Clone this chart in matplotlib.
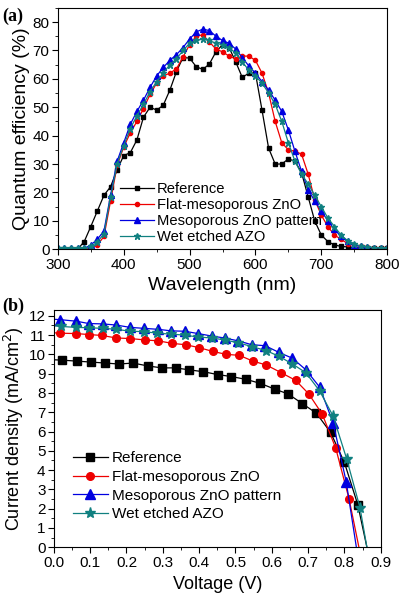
import numpy as np
import matplotlib
matplotlib.use("Agg")
import matplotlib.pyplot as plt
from matplotlib.ticker import MultipleLocator

plt.rcParams['font.family'] = ['Liberation Sans', 'DejaVu Sans']

# ---- panel (a): quantum efficiency ----
wl = list(range(300, 801, 10))

qe_ref = [0, 0, 0, 0, 2.7, 8, 13.5, 19, 22, 28, 33, 34, 38.5, 46.5, 50, 49, 50.7, 56, 62.5, 67.5,
          67.3, 64.3, 63.3, 65.2, 69.5, 72, 71, 66, 60.5, 62, 62, 49, 35.6, 30, 30, 31.8, 31, 27,
          18.5, 10, 5, 2.7, 1.5, 1, 0.8, 0.5, 0.4, 0.3, 0.3, 0.3, 0.3]
qe_flat = [0.2, 0.2, 0.2, 0.2, 0.2, 0.5, 1.5, 4.5, 17, 29.5, 36, 41, 45, 49.5, 54.5, 58.5, 61, 62,
           63.5, 67.7, 72, 75, 75.5, 73, 70.5, 69.5, 68, 67, 68, 68, 66.5, 62, 55, 45, 37.5, 35,
           34.5, 33.5, 26.5, 17.5, 12, 8, 5, 3.5, 2, 1.5, 1, 0.8, 0.5, 0.5, 0.3]
qe_meso = [0.3, 0.3, 0.3, 0.3, 0.3, 1.5, 3.5, 6.5, 19, 31, 37.5, 44, 48.5, 52.5, 57, 61, 64, 66.5,
           68.5, 71, 74, 76.5, 77.5, 77, 75, 73.5, 72.5, 70.5, 67.5, 64.5, 62, 59, 56, 52.5, 48.5,
           42, 34.5, 27.5, 21, 17, 13.5, 10, 7, 4.5, 3, 1.5, 1, 0.7, 0.5, 0.5, 0.5]
qe_wet = [0.3, 0.3, 0.3, 0.3, 0.3, 1, 2.5, 5.5, 18.5, 30, 36.5, 42.5, 47, 51, 55.5, 59, 62, 65,
          67, 70, 72.5, 73.5, 74, 73.5, 72.5, 72, 71, 69, 66, 63, 61, 58.5, 55, 51, 45, 37.5, 31,
          26.5, 23, 19, 15, 11, 8, 5, 3, 2, 1, 0.8, 0.6, 0.5, 0.5]

# ---- panel (b): J-V curves ----
v_ref = [0.0, 0.023, 0.064, 0.103, 0.142, 0.179, 0.218, 0.259, 0.297, 0.335, 0.372, 0.412, 0.452,
         0.489, 0.53, 0.568, 0.608, 0.645, 0.684, 0.723, 0.762, 0.8, 0.837, 0.862]
j_ref = [9.72, 9.7, 9.65, 9.6, 9.55, 9.5, 9.55, 9.4, 9.3, 9.3, 9.2, 9.1, 8.95, 8.85, 8.7, 8.5,
         8.2, 7.95, 7.45, 6.95, 5.95, 4.4, 2.2, 0.0]
v_flat = [0.0, 0.016, 0.06, 0.096, 0.133, 0.172, 0.211, 0.25, 0.288, 0.326, 0.363, 0.4, 0.438,
          0.475, 0.511, 0.548, 0.585, 0.626, 0.666, 0.702, 0.739, 0.776, 0.813, 0.84]
j_flat = [11.12, 11.1, 11.08, 11.03, 10.98, 10.85, 10.82, 10.75, 10.7, 10.57, 10.5, 10.35, 10.15,
          10.0, 9.95, 9.65, 9.45, 9.05, 8.65, 7.95, 6.9, 5.15, 2.5, 0.0]
v_meso = [0.0, 0.018, 0.062, 0.096, 0.135, 0.172, 0.21, 0.248, 0.287, 0.323, 0.36, 0.397, 0.435,
          0.47, 0.508, 0.545, 0.582, 0.62, 0.657, 0.694, 0.732, 0.769, 0.805, 0.833]
j_meso = [11.82, 11.8, 11.72, 11.6, 11.58, 11.52, 11.4, 11.35, 11.3, 11.22, 11.2, 11.08, 10.95,
          10.85, 10.7, 10.5, 10.45, 10.1, 9.8, 9.2, 8.3, 6.45, 3.4, 0.0]
v_wet = [0.0, 0.02, 0.06, 0.097, 0.135, 0.172, 0.21, 0.247, 0.285, 0.322, 0.36, 0.397, 0.435,
         0.47, 0.508, 0.546, 0.584, 0.62, 0.657, 0.694, 0.732, 0.769, 0.806, 0.843, 0.862]
j_wet = [11.48, 11.45, 11.4, 11.38, 11.35, 11.3, 11.2, 11.18, 11.1, 11.05, 11.0, 10.9, 10.85,
         10.75, 10.6, 10.4, 10.2, 9.9, 9.5, 9.05, 8.1, 6.8, 4.6, 2.05, 0.0]

names = ["Reference", "Flat-mesoporous ZnO", "Mesoporous ZnO pattern", "Wet etched AZO"]
colors = ["black", "#ee0000", "#0000e0", "#108080"]
markers = ["s", "o", "^", "*"]

fig = plt.figure(figsize=(4.02, 6.02), dpi=100)
ax1 = fig.add_axes([0.144, 0.586, 0.819, 0.401])
ax2 = fig.add_axes([0.134, 0.091, 0.813, 0.394])

# panel a
ms_a = [2.8, 3, 4, 4.5]
for y, n, c, m, s in zip([qe_ref, qe_flat, qe_meso, qe_wet], names, colors, markers, ms_a):
    ax1.plot(wl, y, color=c, marker=m, ms=s, lw=0.9, label=n)
ax1.set_xlim(300, 800)
ax1.set_ylim(0, 85)
ax1.xaxis.set_major_locator(MultipleLocator(100))
ax1.xaxis.set_minor_locator(MultipleLocator(50))
ax1.yaxis.set_major_locator(MultipleLocator(10))
ax1.yaxis.set_minor_locator(MultipleLocator(5))
ax1.set_xlabel("Wavelength (nm)", fontsize=14, labelpad=4)
ax1.set_ylabel("Quantum efficiency (%)", fontsize=14, labelpad=2)
ax1.legend(loc="lower left", bbox_to_anchor=(0.19, 0.02), frameon=False, fontsize=10.6,
           handlelength=2.3, handletextpad=0.15, labelspacing=0.15, borderaxespad=0,
           borderpad=0)

# panel b
ms_b = [5.5, 5.5, 6.5, 8]
for x, y, n, c, m, s in zip([v_ref, v_flat, v_meso, v_wet], [j_ref, j_flat, j_meso, j_wet],
                             names, colors, markers, ms_b):
    ax2.plot(x, y, color=c, marker=m, ms=s, lw=0.9, label=n, markevery=slice(1, -1))
ax2.set_xlim(0, 0.9)
ax2.set_ylim(0, 12.3)
ax2.xaxis.set_major_locator(MultipleLocator(0.1))
ax2.xaxis.set_minor_locator(MultipleLocator(0.05))
ax2.yaxis.set_major_locator(MultipleLocator(1))
ax2.yaxis.set_minor_locator(MultipleLocator(0.5))
ax2.xaxis.set_major_formatter(matplotlib.ticker.FormatStrFormatter("%.1f"))
ax2.set_xlabel("Voltage (V)", fontsize=13, labelpad=5)
ax2.set_ylabel("Current density (mA/cm$^2$)", fontsize=13, labelpad=2)
ax2.legend(loc="lower left", bbox_to_anchor=(0.058, 0.11), frameon=False, fontsize=11,
           handlelength=2.3, handletextpad=0.25, labelspacing=0.3, borderaxespad=0,
           borderpad=0)

for ax in (ax1, ax2):
    ax.tick_params(which="both", direction="out", top=False, right=False, labelsize=11, pad=2)
    ax.tick_params(which="major", length=4)
    ax.tick_params(which="minor", length=2)

fig.text(0.005, 0.987, "(a)", fontsize=13, fontweight="bold", family="Liberation Serif", va="top")
fig.text(0.005, 0.505, "(b)", fontsize=13, fontweight="bold", family="Liberation Serif", va="top")

fig.savefig("out.png", dpi=100)
